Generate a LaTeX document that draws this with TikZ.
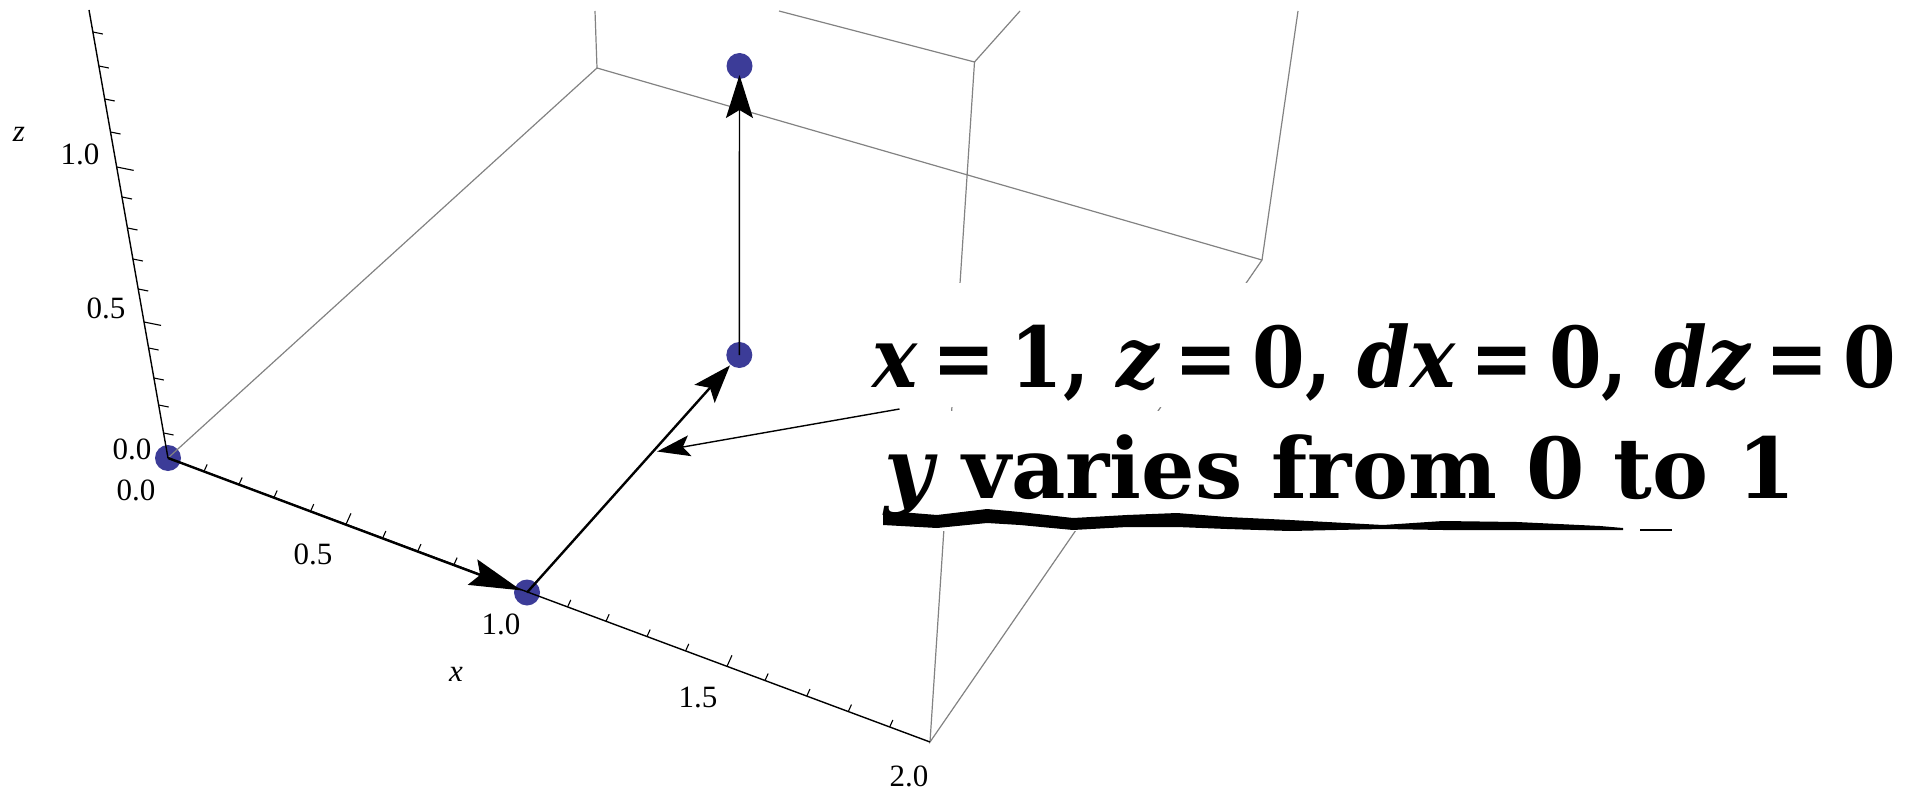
\documentclass[tikz,border=0pt]{standalone}
\usepackage{fontspec}
\usepackage{graphicx}
\usepackage{tikz}
\usetikzlibrary{arrows.meta,calc}
\setmainfont{Liberation Serif}
\newfontfamily\scanfont{DejaVu Serif}
\definecolor{ptblue}{RGB}{60,60,152}
\definecolor{edgegray}{RGB}{130,130,130}
\newcommand{\eqsign}{\hspace{0.2em}=\hspace{0.2em}}

\begin{document}
\begin{tikzpicture}[x=1pt,y=-1pt,
    edge/.style={edgegray,line width=1.2pt},
    axis/.style={black,line width=1.4pt},
    tick/.style={black,line width=1.1pt},
    lbl/.style={inner sep=0pt,font=\fontsize{31}{33}\selectfont},
    note/.style={fill=white,inner xsep=6pt,inner ysep=0pt,anchor=base west,
      font=\scanfont\bfseries\fontsize{84}{90}\selectfont},
    bigtip/.style={-{Stealth[length=#1,width=27pt,inset=8pt]}}]
        \useasboundingbox (0,0) rectangle (1925,789);
        \coordinate (O) at (168,458);
        \coordinate (B) at (597,68);
        \coordinate (C) at (1262,260);
        \coordinate (X2) at (930,742);
        \coordinate (T) at (974.5,62);
        \coordinate (Ztop) at (89,10);
        \coordinate (P1) at (527,592.5);
        \coordinate (Q) at (739.3,355);
        \coordinate (R) at (739.5,66);
        \coordinate (ptr) at (899.5,409);
        \coordinate (aim) at ($(P1)!0.59!(Q)$);
        \foreach \p in {O,P1,Q,R} {
            \fill[ptblue] (\p) circle (13pt);
          }
        \draw[edge] (O) -- (B) -- (C) -- (X2) -- (T);
        \draw[edge] (B) -- (595,11);
        \draw[edge] (C) -- (1298,11);
        \draw[edge] (779,11) -- (T) -- (1020,11);
        \draw[axis] (O) -- (Ztop);
        \draw[axis] (O) -- (X2);
        \foreach \y/\l in {433/10,405/10,378/10,348/10,322/17,289/10,259/10,228/10,197/10,167/17,132/10,99/10,66/10,32/10} {
            \draw[tick] ({168-0.1763*(458-\y)},\y) -- ++(\l,0.2*\l);
          }
        \foreach \x/\l in {204/7,239/7,274/7,310.6/7,346/11,382.7/7,417.8/7,454/7,491/7,567.6/7,606/7,647/7,685.6/7,727/11,765/7,806.8/7,848.3/7,889.7/7} {
            \draw[tick] (\x,{458+0.3727*(\x-168)}) -- ++(0.45*\l,-\l);
          }
        \node[lbl] (z0) at (132,449) {0.0};
        \node[lbl] (z5) at (106,308) {0.5};
        \node[lbl] (z10) at (80,154) {1.0};
        \node[lbl] (zname) at (19,134) {\itshape z};
        \node[lbl] (x0) at (136,490) {0.0};
        \node[lbl] (x5) at (313,554) {0.5};
        \node[lbl] (x10) at (501,624) {1.0};
        \node[lbl] (xname) at (456,674) {\itshape x};
        \node[lbl] (x15) at (698,697) {1.5};
        \node[lbl] (x20) at (909,776) {2.0};
        \draw[line width=2.4pt,bigtip=52pt,shorten >=6pt] (O) -- (P1);
        \draw[line width=2.4pt,bigtip=38pt,shorten >=14pt] (P1) -- (Q);
        \draw[line width=1.4pt,bigtip=43pt,shorten >=9pt] (Q) -- (R);
        \node[note,text height=104pt,text depth=20pt] (cond) at (866,387)
          {\scalebox{0.9}[1]{{\itshape x}\eqsign 1, {\itshape z}\eqsign 0, {\itshape dx}\eqsign 0, {\itshape dz}\eqsign 0}};
        \node[note,text height=87pt,text depth=33pt] (vary) at (878,498)
          {{\itshape y} varies from 0 to 1};
        \fill (883,513) -- (900,512) -- (937,515) -- (987,509) -- (1020,512) -- (1073,518) -- (1127,515)
          -- (1177,513) -- (1227,517) -- (1290,520) -- (1383,525) -- (1443,521) -- (1517,522) -- (1600,526)
          -- (1623,528) -- (1623,530) -- (1517,530) -- (1443,530) -- (1383,529) -- (1290,531) -- (1227,529)
          -- (1177,527) -- (1127,527) -- (1073,530) -- (1020,525) -- (987,523) -- (937,528) -- (883,525) -- cycle;
        \fill (1640,529) rectangle (1672,531);
        \draw[line width=1.4pt,-{Stealth[length=33pt,width=21pt,inset=7pt]},shorten >=5pt] (ptr) -- (aim);
      \end{tikzpicture}
\end{document}
